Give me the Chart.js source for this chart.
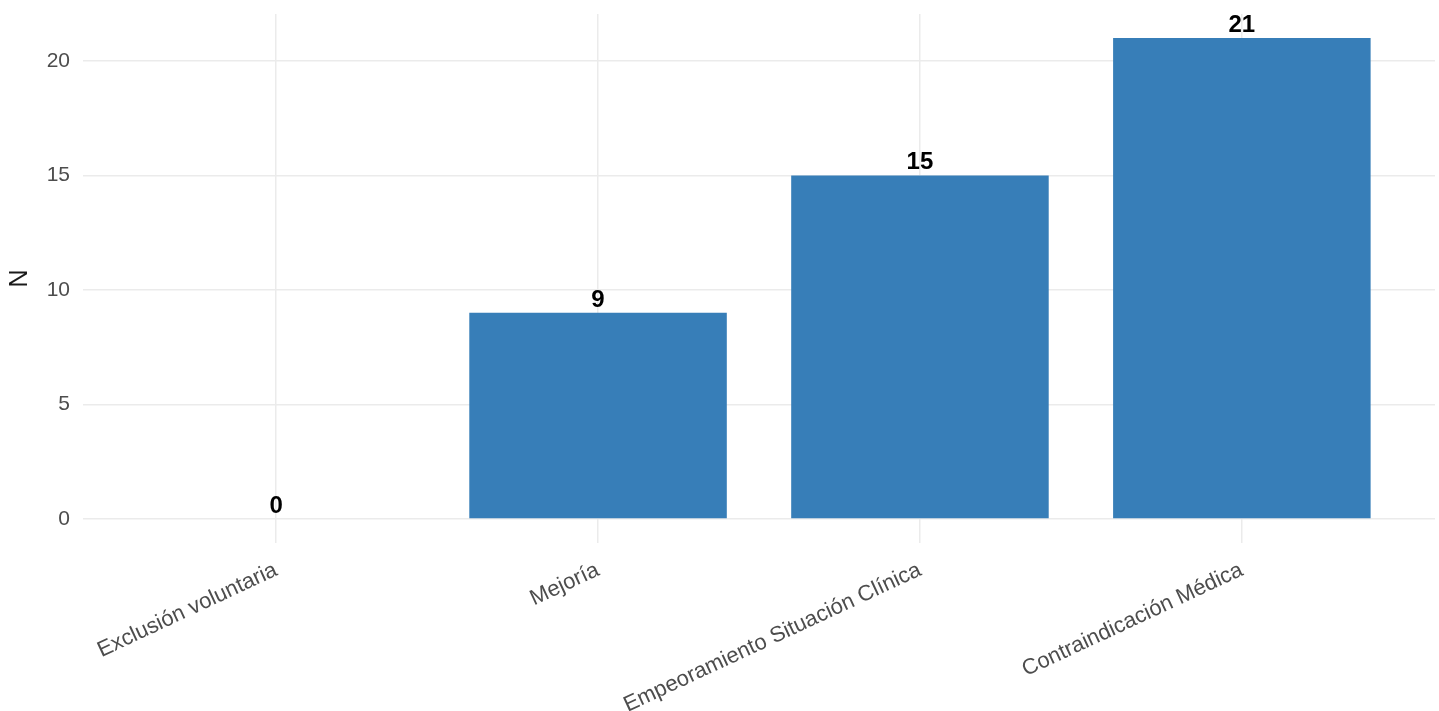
<!DOCTYPE html>
<html>
<head>
<meta charset="utf-8">
<script src="https://cdn.jsdelivr.net/npm/chart.js@4/dist/chart.umd.min.js"></script>
<style>
  html, body { margin: 0; padding: 0; background: #ffffff; }
  #wrap { width: 1439px; height: 711px; }
</style>
</head>
<body>
<div id="wrap"><canvas id="chartMotivos" width="1439" height="711"></canvas></div>
<script>
// categorias y valores
var categorias = ["Exclusión voluntaria", "Mejoría", "Empeoramiento Situación Clínica", "Contraindicación Médica"];
var valores = [0, 9, 15, 21];
var yTicks = [0, 5, 10, 15, 20];

var gridColor = "#ebebeb";
var textGray = "#4d4d4d";
var fontFam = "'Liberation Sans', Arial, sans-serif";

// etiquetas encima de cada barra
var etiquetasBarras = {
  id: "etiquetasBarras",
  afterDatasetsDraw: function(chart) {
    var ctx = chart.ctx;
    var meta = chart.getDatasetMeta(0);
    ctx.save();
    ctx.font = "bold 24px " + fontFam;
    ctx.fillStyle = "#000000";
    ctx.textAlign = "center";
    ctx.textBaseline = "alphabetic";
    meta.data.forEach(function(el, i) {
      ctx.fillText(String(valores[i]), el.x, el.y - 6);
    });
    ctx.restore();
  }
};

var config = {
  type: "bar",
  data: {
    datasets: [{
      label: "N",
      data: valores.map(function(v, i) { return { x: i + 1, y: v }; }),
      backgroundColor: "#377EB8",
      borderWidth: 0,
      categoryPercentage: 1.0,
      barPercentage: 0.8
    }]
  },
  options: {
    responsive: false,
    animation: false,
    layout: { padding: { top: 14, right: 4, left: 0, bottom: 0 } },
    plugins: {
      legend: { display: false },
      tooltip: { enabled: false }
    },
    scales: {
      x: {
        type: "linear",
        offset: false,
        min: 0.4,
        max: 4.6,
        afterBuildTicks: function(scale) {
          scale.ticks = categorias.map(function(c, i) { return { value: i + 1 }; });
        },
        afterFit: function(scale) { scale.height = 168; },
        grid: { color: gridColor, lineWidth: 1.5, drawTicks: false, offset: false },
        border: { display: false },
        ticks: {
          autoSkip: false,
          minRotation: 25,
          maxRotation: 25,
          padding: 14,
          color: textGray,
          font: { family: fontFam, size: 22 },
          callback: function(value) { return categorias[Math.round(value) - 1]; }
        }
      },
      y: {
        min: -1.05,
        max: 22.05,
        afterBuildTicks: function(scale) {
          scale.ticks = yTicks.map(function(v) { return { value: v }; });
        },
        afterFit: function(scale) {
          scale.width = 83;
          scale.paddingTop = 0;
          scale.paddingBottom = 0;
        },
        grid: { color: gridColor, lineWidth: 1.5, drawTicks: false },
        border: { display: false },
        title: {
          display: true,
          text: "N",
          color: "#1a1a1a",
          font: { family: fontFam, size: 25 },
          padding: { top: 5, bottom: 0 }
        },
        ticks: {
          padding: 13,
          color: textGray,
          font: { family: fontFam, size: 21 }
        }
      }
    }
  },
  plugins: [etiquetasBarras]
};

window.onload = function() {
  var ctx = document.getElementById("chartMotivos").getContext("2d");
  window.chartMotivos = new Chart(ctx, config);
};
</script>
</body>
</html>
